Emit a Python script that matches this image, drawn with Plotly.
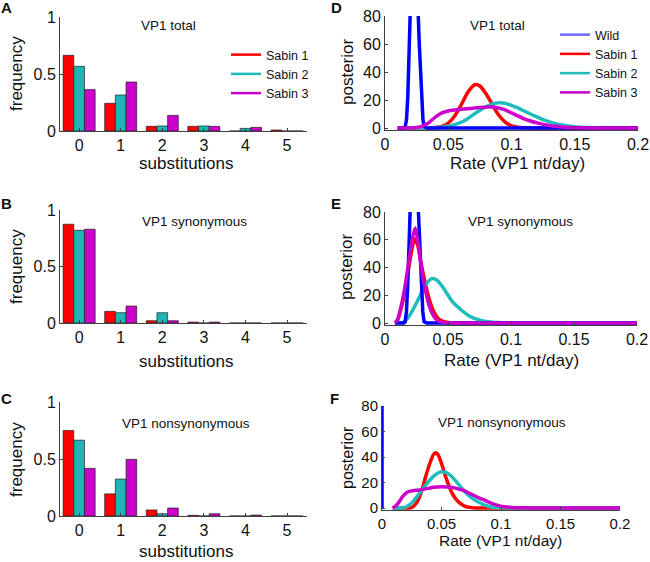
import plotly.graph_objects as go

W, H = 650, 562

# ---------------- data ----------------
substitutions = [0, 1, 2, 3, 4, 5]
series_names = ["Sabin 1", "Sabin 2", "Sabin 3"]

# Panel A: VP1 total
freq_total_s1 = [0.664, 0.243, 0.041, 0.041, 0.0, 0.009]
freq_total_s2 = [0.567, 0.316, 0.044, 0.044, 0.023, 0.0]
freq_total_s3 = [0.363, 0.430, 0.137, 0.041, 0.032, 0.0]
# Panel B: VP1 synonymous
freq_syn_s1 = [0.874, 0.103, 0.020, 0.008, 0.0, 0.0]
freq_syn_s2 = [0.820, 0.091, 0.091, 0.0, 0.0, 0.0]
freq_syn_s3 = [0.830, 0.150, 0.020, 0.008, 0.0, 0.0]
# Panel C: VP1 nonsynonymous
freq_non_s1 = [0.750, 0.194, 0.053, 0.006, 0.0, 0.0]
freq_non_s2 = [0.665, 0.324, 0.020, 0.0, 0.0, 0.0]
freq_non_s3 = [0.418, 0.497, 0.070, 0.020, 0.008, 0.0]

# Panel D: posterior, VP1 total
d_wild_x = [0.010, 0.015, 0.016, 0.017, 0.018, 0.019, 0.020, 0.021, 0.023, 0.025, 0.026, 0.027, 0.028, 0.029, 0.030, 0.031, 0.033, 0.200]
d_wild_y = [0, 0, 1, 6, 22, 50, 85, 115, 135, 110, 88, 62, 38, 18, 6, 1, 0, 0]
d_s1_x = [0.010, 0.035, 0.040, 0.045, 0.050, 0.055, 0.060, 0.065, 0.070, 0.072, 0.075, 0.080, 0.085, 0.090, 0.095, 0.100, 0.105, 0.110, 0.120, 0.200]
d_s1_y = [0, 0, 0.3, 1.1, 3.5, 8.4, 16.1, 24.8, 30.4, 31, 30, 24.3, 16.4, 9.1, 4.2, 1.6, 0.5, 0.15, 0, 0]
d_s2_x = [0.010, 0.035, 0.040, 0.045, 0.050, 0.055, 0.060, 0.065, 0.070, 0.075, 0.080, 0.085, 0.090, 0.095, 0.100, 0.105, 0.110, 0.115, 0.120, 0.125, 0.130, 0.135, 0.140, 0.150, 0.160, 0.170, 0.180, 0.200]
d_s2_y = [0, 0, 0.2, 0.6, 1.2, 2.4, 4.0, 6.5, 9.6, 12.6, 15.2, 17.2, 18, 17.6, 16.2, 14.4, 12.2, 10.0, 8.0, 6.0, 4.4, 3.1, 2.1, 0.9, 0.35, 0.1, 0, 0]
d_s3_x = [0.010, 0.020, 0.025, 0.030, 0.033, 0.035, 0.040, 0.045, 0.050, 0.055, 0.060, 0.065, 0.070, 0.075, 0.080, 0.085, 0.090, 0.095, 0.100, 0.105, 0.110, 0.115, 0.120, 0.125, 0.130, 0.135, 0.140, 0.150, 0.160, 0.200]
d_s3_y = [0, 0, 0.3, 1.5, 2.8, 4.0, 8.0, 10.8, 12.2, 12.9, 13.4, 13.8, 14.2, 14.6, 15.0, 15.0, 14.3, 13.0, 10.8, 8.6, 6.6, 5.0, 3.7, 2.6, 1.8, 1.2, 0.7, 0.25, 0.05, 0]

# Panel E: posterior, VP1 synonymous
e_wild_x = [0.008, 0.015, 0.016, 0.017, 0.018, 0.019, 0.020, 0.021, 0.023, 0.025, 0.026, 0.027, 0.028, 0.029, 0.030, 0.031, 0.033, 0.200]
e_wild_y = [0, 0, 1, 8, 26, 55, 82, 110, 130, 108, 92, 70, 44, 22, 8, 1, 0, 0]
e_s1_x = [0.008, 0.010, 0.012, 0.014, 0.016, 0.018, 0.020, 0.022, 0.024, 0.026, 0.028, 0.030, 0.032, 0.034, 0.036, 0.038, 0.040, 0.042, 0.045, 0.050, 0.055, 0.060, 0.200]
e_s1_y = [0, 2, 7.7, 15, 24.6, 35, 46, 56, 60.7, 56, 46, 37, 28.5, 21, 14.5, 9.5, 6, 3.5, 1.6, 0.4, 0.1, 0, 0]
e_s2_x = [0.008, 0.012, 0.015, 0.018, 0.021, 0.025, 0.029, 0.033, 0.037, 0.041, 0.045, 0.049, 0.053, 0.057, 0.061, 0.065, 0.069, 0.074, 0.079, 0.085, 0.090, 0.100, 0.110, 0.200]
e_s2_y = [0, 0, 0.8, 3.5, 7.7, 14.5, 22, 28.5, 32, 31, 27, 21.5, 16, 12.2, 9, 6.2, 4, 2.4, 1.2, 0.6, 0.3, 0.05, 0, 0]
e_s3_x = [0.008, 0.010, 0.012, 0.014, 0.016, 0.018, 0.020, 0.022, 0.024, 0.026, 0.028, 0.029, 0.030, 0.032, 0.034, 0.036, 0.038, 0.040, 0.042, 0.045, 0.050, 0.055, 0.200]
e_s3_y = [0, 2.5, 9, 17, 27, 39, 51, 62, 68.4, 60, 46, 39, 33, 24, 16, 10, 6, 3.2, 1.7, 0.6, 0.15, 0, 0]

# Panel F: posterior, VP1 nonsynonymous
f_wild_x = [0.0, 0.0]
f_wild_y = [0, 300]
f_s1_x = [0.009, 0.022, 0.025, 0.028, 0.031, 0.034, 0.037, 0.040, 0.043, 0.045, 0.047, 0.050, 0.053, 0.056, 0.059, 0.062, 0.065, 0.068, 0.071, 0.075, 0.080, 0.200]
f_s1_y = [0, 0, 0.4, 2.8, 7.5, 15.5, 25.5, 34.5, 41.5, 43.4, 42, 35, 26, 18, 11.5, 7.2, 4.2, 2.2, 1.0, 0.3, 0, 0]
f_s2_x = [0.009, 0.017, 0.020, 0.023, 0.026, 0.030, 0.0345, 0.039, 0.043, 0.047, 0.050, 0.054, 0.057, 0.061, 0.066, 0.070, 0.074, 0.078, 0.083, 0.087, 0.091, 0.096, 0.102, 0.110, 0.200]
f_s2_y = [0, 0, 0.8, 2.5, 5, 9.5, 15.4, 20.5, 24.6, 27.4, 28.5, 27.8, 26, 22.3, 16.7, 12.6, 8.9, 6.2, 3.7, 2.1, 1, 0.4, 0.1, 0, 0]
f_s3_x = [0.009, 0.012, 0.0145, 0.017, 0.020, 0.023, 0.026, 0.030, 0.0345, 0.039, 0.043, 0.050, 0.055, 0.060, 0.064, 0.0687, 0.073, 0.077, 0.081, 0.086, 0.090, 0.094, 0.098, 0.103, 0.109, 0.115, 0.125, 0.135, 0.200]
f_s3_y = [0, 2, 5, 8.5, 11.5, 13, 13.6, 14, 14.6, 15.4, 16.2, 16.7, 16.5, 16, 15, 13.6, 11.8, 10, 8.2, 6.3, 4.5, 3, 1.9, 1, 0.45, 0.2, 0.05, 0, 0]

freq_ticks = [0, 0.5, 1]
freq_ticklabels = ["0", "0.5", "1"]
post_ticks = [0, 20, 40, 60, 80]
rate_ticks = [0, 0.05, 0.1, 0.15, 0.2]
rate_ticklabels = ["0", "0.05", "0.1", "0.15", "0.2"]

# ---------------- style ----------------
FONT = "Liberation Sans, Arial, Helvetica, sans-serif"
RED, CYAN, MAG, BLUE = "#ff0000", "#1fbcbc", "#cc00cc", "#0000ff"
BAR_CYAN = "#1db5b5"
AXC = "#404040"
LW = 3.5


def px_dom_x(a, b):
    return [a / W, b / W]


def px_dom_y(top, bottom):
    return [1 - bottom / H, 1 - top / H]


fig = go.Figure()

bar_sets = [
    ("x", "y", [freq_total_s1, freq_total_s2, freq_total_s3]),
    ("x2", "y2", [freq_syn_s1, freq_syn_s2, freq_syn_s3]),
    ("x3", "y3", [freq_non_s1, freq_non_s2, freq_non_s3]),
]
bar_colors = [RED, BAR_CYAN, MAG]
for xa, ya, vals in bar_sets:
    for name, v, c in zip(series_names, vals, bar_colors):
        fig.add_trace(go.Bar(x=substitutions, y=v, name=name, marker=dict(color=c, line=dict(color="#202020", width=0.7)),
                             xaxis=xa, yaxis=ya, showlegend=False))

# legend entries for panel A (line style, like the original)
for name, c in zip(series_names, [RED, CYAN, MAG]):
    fig.add_trace(go.Scatter(x=[None], y=[None], mode="lines", name=name, line=dict(color=c, width=2.5),
                             xaxis="x", yaxis="y", legend="legend2", showlegend=True))

curve_sets = [
    ("x4", "y4", (d_wild_x, d_wild_y), (d_s1_x, d_s1_y), (d_s2_x, d_s2_y), (d_s3_x, d_s3_y)),
    ("x5", "y5", (e_wild_x, e_wild_y), (e_s1_x, e_s1_y), (e_s2_x, e_s2_y), (e_s3_x, e_s3_y)),
    ("x6", "y6", (f_wild_x, f_wild_y), (f_s1_x, f_s1_y), (f_s2_x, f_s2_y), (f_s3_x, f_s3_y)),
]
for xa, ya, wild, s1, s2, s3 in curve_sets:
    fig.add_trace(go.Scatter(x=s1[0], y=s1[1], mode="lines", name="Sabin 1", line=dict(color=RED, width=LW, shape="spline", smoothing=0.6),
                             xaxis=xa, yaxis=ya, showlegend=False))
    fig.add_trace(go.Scatter(x=s2[0], y=s2[1], mode="lines", name="Sabin 2", line=dict(color=CYAN, width=LW, shape="spline", smoothing=0.6),
                             xaxis=xa, yaxis=ya, showlegend=False))
    fig.add_trace(go.Scatter(x=wild[0], y=wild[1], mode="lines", name="Wild", line=dict(color=BLUE, width=LW),
                             xaxis=xa, yaxis=ya, showlegend=False))
    fig.add_trace(go.Scatter(x=s3[0], y=s3[1], mode="lines", name="Sabin 3", line=dict(color=MAG, width=LW, shape="spline", smoothing=0.6),
                             xaxis=xa, yaxis=ya, showlegend=False))

# legend entries for panel D
for name, c in zip(["Wild"] + series_names, ["#6a6aff", RED, CYAN, MAG]):
    fig.add_trace(go.Scatter(x=[None], y=[None], mode="lines", name=name, line=dict(color=c, width=2.5),
                             xaxis="x4", yaxis="y4", legend="legend", showlegend=True))

axis_common = dict(showline=True, linecolor=AXC, linewidth=1, ticks="inside", ticklen=3, tickcolor=AXC,
                   showgrid=False, zeroline=False, automargin=False, mirror=False,
                   tickfont=dict(family=FONT, size=16, color="#111"))

bar_x = dict(axis_common, range=[-0.46, 5.48], tickvals=substitutions, ticktext=[str(s) for s in substitutions])
bar_y = dict(axis_common, range=[0, 1], tickvals=freq_ticks, ticktext=freq_ticklabels)

YNEG = 1.5


def post_y(top, bottom, size=16):
    ext = YNEG * (bottom - top) / 80.0
    return dict(axis_common, range=[-YNEG, 80], tickvals=post_ticks, ticktext=[str(t) for t in post_ticks],
                domain=px_dom_y(top, bottom + ext), tickfont=dict(family=FONT, size=size, color="#111"))


yD = post_y(16, 128)
yE = post_y(212, 323)
yF = post_y(406, 508, 15)

fig.update_layout(
    template="none",
    width=W, height=H, margin=dict(l=0, r=0, t=0, b=0, pad=0, autoexpand=False), autosize=False,
    paper_bgcolor="white", plot_bgcolor="white",
    font=dict(family=FONT, color="#111"),
    barmode="group", bargap=0.23, bargroupgap=0,
    xaxis=dict(bar_x, domain=px_dom_x(60, 307), anchor="y"),
    yaxis=dict(bar_y, domain=px_dom_y(17, 131), anchor="x"),
    xaxis2=dict(bar_x, domain=px_dom_x(60, 307), anchor="y2"),
    yaxis2=dict(bar_y, domain=px_dom_y(210, 323), anchor="x2"),
    xaxis3=dict(bar_x, domain=px_dom_x(60, 307), anchor="y3"),
    yaxis3=dict(bar_y, domain=px_dom_y(402, 516), anchor="x3"),
    xaxis4=dict(axis_common, range=[0, 0.2], tickvals=rate_ticks, ticktext=rate_ticklabels, domain=px_dom_x(385, 638), anchor="y4"),
    yaxis4=dict(yD, anchor="x4"),
    xaxis5=dict(axis_common, range=[0, 0.2], tickvals=rate_ticks, ticktext=rate_ticklabels, domain=px_dom_x(385, 637), anchor="y5"),
    yaxis5=dict(yE, anchor="x5"),
    xaxis6=dict(axis_common, range=[0, 0.2], tickvals=rate_ticks, ticktext=rate_ticklabels, domain=px_dom_x(382, 620), anchor="y6",
                tickfont=dict(family=FONT, size=15, color="#111")),
    yaxis6=dict(yF, anchor="x6"),
    legend=dict(x=555 / W, y=1 - 20 / H, xanchor="left", yanchor="top", bgcolor="rgba(0,0,0,0)",
                font=dict(family=FONT, size=12.5, color="#111"), tracegroupgap=0),
    legend2=dict(x=226 / W, y=1 - 40 / H, xanchor="left", yanchor="top", bgcolor="rgba(0,0,0,0)",
                 font=dict(family=FONT, size=12.5, color="#111"), tracegroupgap=0),
)

ann = []


def txt(x, y, s, size, bold=False, angle=0):
    ann.append(dict(x=x / W, y=1 - y / H, xref="paper", yref="paper", text=("<b>%s</b>" % s) if bold else s,
                    showarrow=False, xanchor="center", yanchor="middle", textangle=angle,
                    font=dict(family=FONT, size=size, color="#111")))


# panel letters
for (x, y, s) in [(6, 8, "A"), (6, 203, "B"), (6, 398, "C"), (336, 8, "D"), (336, 203, "E"), (335, 398, "F")]:
    txt(x, y, s, 15, bold=True)
# panel titles
txt(168, 25, "VP1 total", 13.5)
txt(194, 222, "VP1 synonymous", 13.5)
txt(186, 423, "VP1 nonsynonymous", 13.5)
txt(497, 25, "VP1 total", 13.5)
txt(520, 222, "VP1 synonymous", 13.5)
txt(502, 422, "VP1 nonsynonymous", 13.5)
# axis titles
for y in (74, 267, 460):
    txt(16, y, "frequency", 17, angle=-90)
for y in (163, 361, 551):
    txt(186, y, "substitutions", 17)
txt(347, 72, "posterior", 17, angle=-90)
txt(346, 267, "posterior", 17, angle=-90)
txt(347, 458, "posterior", 16, angle=-90)
txt(517, 163, "Rate (VP1 nt/day)", 17)
txt(511, 360, "Rate (VP1 nt/day)", 17)
txt(500, 540, "Rate (VP1 nt/day)", 15.5)

fig.update_layout(annotations=ann)
fig.write_html("out.html", config={"displayModeBar": False},
               post_script="document.body.style.margin='0';document.body.style.padding='0';document.body.style.overflow='hidden';")
